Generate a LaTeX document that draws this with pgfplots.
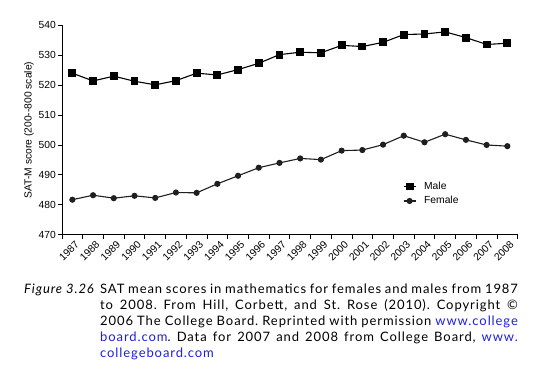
\documentclass[border=0pt]{standalone}
\usepackage{pgfplots}
\pgfplotsset{compat=1.18}
\usepackage{fontspec}
\setmainfont{Lato}
\newfontfamily\chartfont{Liberation Sans}
\newfontfamily\capfont[LetterSpace=7]{Lato}
\definecolor{linkblue}{RGB}{30,30,230}
\pgfplotstableread{
x male female
0 524.0 481.7
1 521.4 483.2
2 523.0 482.2
3 521.3 483.0
4 520.1 482.3
5 521.5 484.1
6 524.0 484.0
7 523.4 487.0
8 525.2 489.7
9 527.3 492.4
10 530.2 494.0
11 531.0 495.5
12 530.8 495.1
13 533.3 498.1
14 532.9 498.3
15 534.3 500.1
16 536.9 503.1
17 537.1 500.9
18 537.8 503.6
19 535.9 501.7
20 533.6 500.0
21 534.0 499.6
}\satdata
\begin{document}
\begin{tikzpicture}
\path[use as bounding box] (0pt,0pt) rectangle (541pt,368pt);
\begin{axis}[
  scale only axis,
  width=455.7pt, height=209.4pt,
  at={(62pt,133.3pt)}, anchor=south west,
  xmin=-0.5, xmax=21.5,
  ymin=470, ymax=540,
  axis x line*=bottom, axis y line*=left,
  axis line style={-, line width=0.8pt},
  every tick/.style={black, line width=0.8pt},
  tick align=outside,
  xtick={0,...,21},
  xticklabels={1987,1988,1989,1990,1991,1992,1993,1994,1995,1996,1997,1998,1999,2000,2001,2002,2003,2004,2005,2006,2007,2008},
  major x tick style={draw=none},
  minor xtick={-0.5,0.5,...,21.5},
  minor tick length=4.5pt,
  ytick={470,480,...,540},
  major tick length=4.5pt,
  /pgf/number format/assume math mode=true,
  yticklabel style={font=\chartfont\fontsize{10.3}{12}\selectfont, inner sep=1.5pt},
  xticklabel style={font=\chartfont\fontsize{10.3}{12}\selectfont, rotate=45, anchor=north east, inner sep=1pt, xshift=2pt, yshift=-1pt},
  yticklabel={\pgfmathprintnumber[assume math mode=true]{\tick}},
  ylabel={SAT-M score (200--800 scale)},
  every axis y label/.style={at={(axis description cs:-0.0724,0.5)}, rotate=90, anchor=center, font=\chartfont\fontsize{10.3}{12}\selectfont},
  legend style={draw=none, fill=none, at={(axis description cs:0.748,0.262)}, anchor=north west, inner sep=0pt, font=\chartfont\fontsize{10.3}{12}\selectfont, row sep=1.5pt, /tikz/every odd column/.append style={column sep=6pt}},
  legend cell align=left,
  legend image code/.code={\draw[mark repeat=2,mark phase=2,#1] plot coordinates {(0pt,0pt) (6pt,0pt) (12pt,0pt)};},
]
\addplot[black, line width=1.1pt, mark=square*, mark size=3.4pt, mark options={solid}] table[x=x, y=male] {\satdata};
\addlegendentry{Male}
\addplot[black!88, line width=1.1pt, mark=*, mark size=2.5pt, mark options={solid}] table[x=x, y=female] {\satdata};
\addlegendentry{Female}
\end{axis}
\node[anchor=base west, inner sep=0pt] at (24pt,74.7pt) {\capfont\fontsize{13}{16}\selectfont\itshape Figure 3.26};
\node[anchor=base west, inner sep=0pt] at (100pt,74.7pt) {\parbox[t]{417.7pt}{\capfont\fontsize{13}{16}\selectfont\frenchspacing\rightskip=0pt\parfillskip=0pt plus 1fil\noindent
SAT mean scores in mathematics for females and males from 1987\linebreak
to 2008. From Hill, Corbett, and St.\ Rose (2010). Copyright ©\linebreak
2006 The College Board. Reprinted with permission \textcolor{linkblue}{www.college}\linebreak
\textcolor{linkblue}{board.com}. Data for 2007 and 2008 from College Board, \textcolor{linkblue}{www.}\linebreak
\textcolor{linkblue}{collegeboard.com}}};
\end{tikzpicture}
\end{document}
